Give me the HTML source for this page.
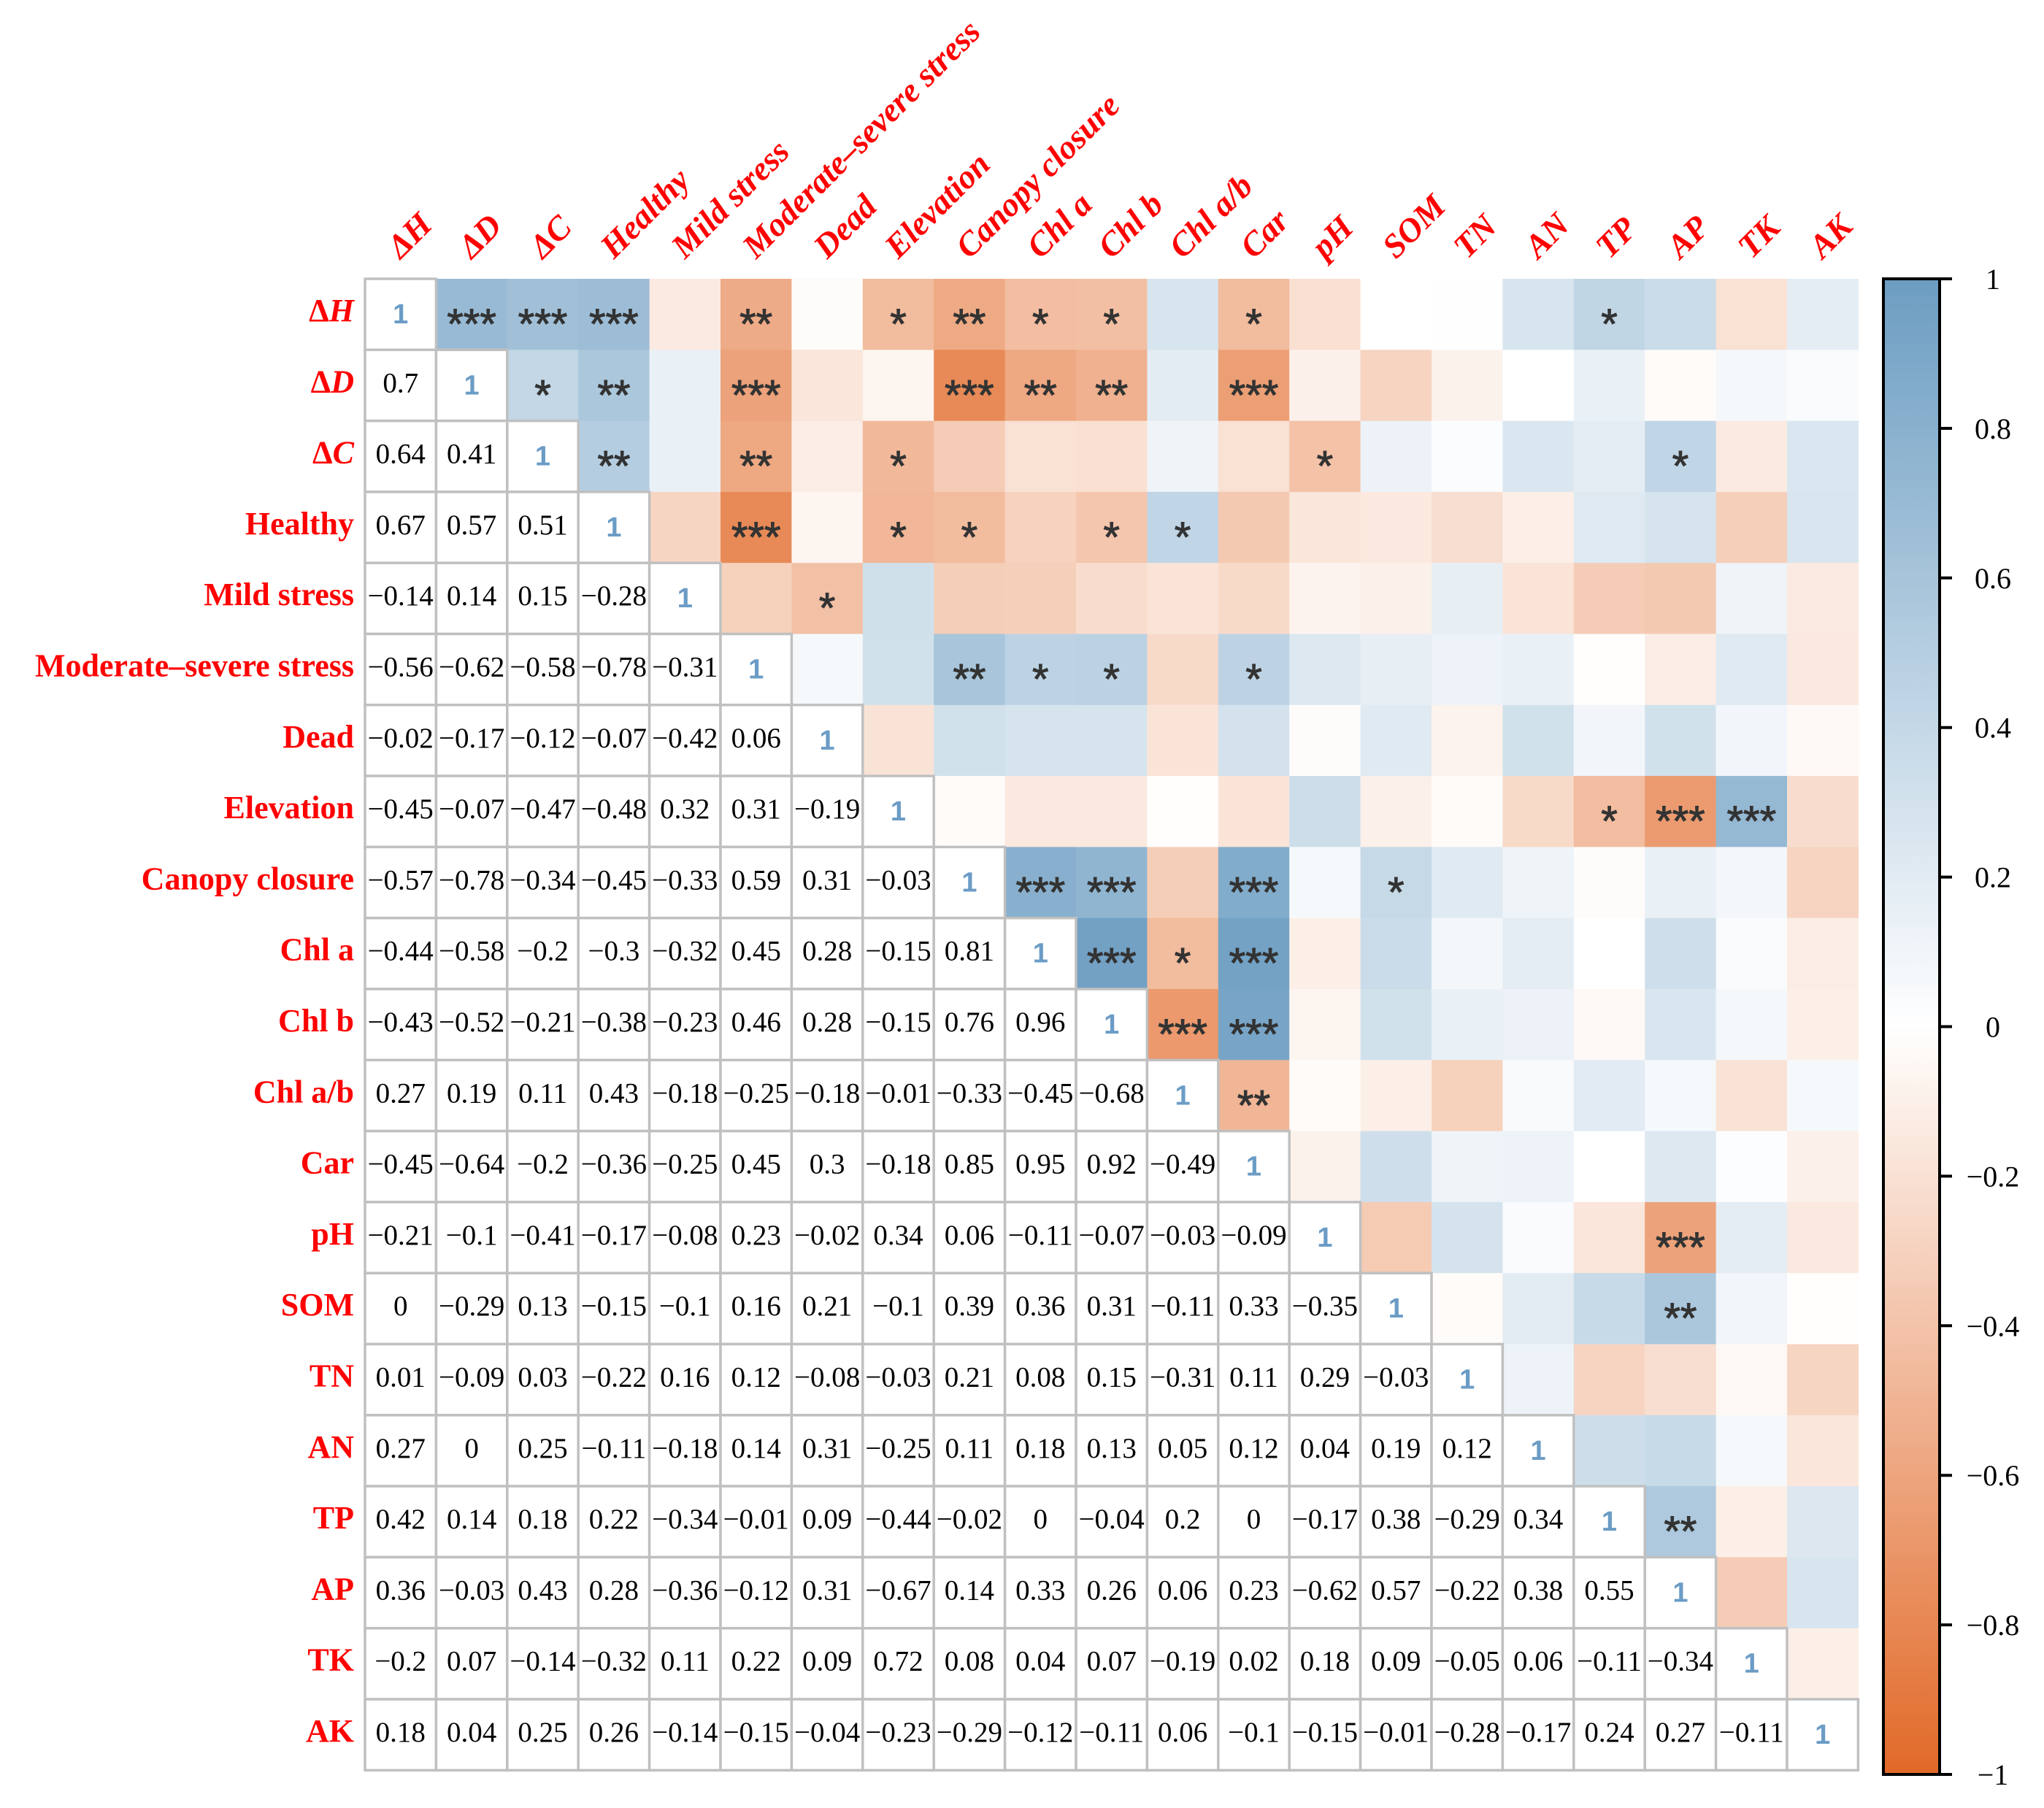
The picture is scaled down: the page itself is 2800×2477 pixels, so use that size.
<!DOCTYPE html>
<html><head><meta charset="utf-8"><style>
html,body{margin:0;padding:0;background:#fff;}
svg{display:block;}
</style></head><body>
<svg id="chart" width="2800" height="2477" viewBox="0 0 2800 2477" xmlns="http://www.w3.org/2000/svg"></svg>
<script>
const labels = ["ΔH","ΔD","ΔC","Healthy","Mild stress","Moderate–severe stress","Dead","Elevation","Canopy closure","Chl a","Chl b","Chl a/b","Car","pH","SOM","TN","AN","TP","AP","TK","AK"];
const lowerValues = [
 [],
 [0.7],
 [0.64,0.41],
 [0.67,0.57,0.51],
 [-0.14,0.14,0.15,-0.28],
 [-0.56,-0.62,-0.58,-0.78,-0.31],
 [-0.02,-0.17,-0.12,-0.07,-0.42,0.06],
 [-0.45,-0.07,-0.47,-0.48,0.32,0.31,-0.19],
 [-0.57,-0.78,-0.34,-0.45,-0.33,0.59,0.31,-0.03],
 [-0.44,-0.58,-0.2,-0.3,-0.32,0.45,0.28,-0.15,0.81],
 [-0.43,-0.52,-0.21,-0.38,-0.23,0.46,0.28,-0.15,0.76,0.96],
 [0.27,0.19,0.11,0.43,-0.18,-0.25,-0.18,-0.01,-0.33,-0.45,-0.68],
 [-0.45,-0.64,-0.2,-0.36,-0.25,0.45,0.3,-0.18,0.85,0.95,0.92,-0.49],
 [-0.21,-0.1,-0.41,-0.17,-0.08,0.23,-0.02,0.34,0.06,-0.11,-0.07,-0.03,-0.09],
 [0,-0.29,0.13,-0.15,-0.1,0.16,0.21,-0.1,0.39,0.36,0.31,-0.11,0.33,-0.35],
 [0.01,-0.09,0.03,-0.22,0.16,0.12,-0.08,-0.03,0.21,0.08,0.15,-0.31,0.11,0.29,-0.03],
 [0.27,0,0.25,-0.11,-0.18,0.14,0.31,-0.25,0.11,0.18,0.13,0.05,0.12,0.04,0.19,0.12],
 [0.42,0.14,0.18,0.22,-0.34,-0.01,0.09,-0.44,-0.02,0,-0.04,0.2,0,-0.17,0.38,-0.29,0.34],
 [0.36,-0.03,0.43,0.28,-0.36,-0.12,0.31,-0.67,0.14,0.33,0.26,0.06,0.23,-0.62,0.57,-0.22,0.38,0.55],
 [-0.2,0.07,-0.14,-0.32,0.11,0.22,0.09,0.72,0.08,0.04,0.07,-0.19,0.02,0.18,0.09,-0.05,0.06,-0.11,-0.34],
 [0.18,0.04,0.25,0.26,-0.14,-0.15,-0.04,-0.23,-0.29,-0.12,-0.11,0.06,-0.1,-0.15,-0.01,-0.28,-0.17,0.24,0.27,-0.11]
];
const starRows = [0,0,0,0,0,0,0,0,0,0, 1,1,1,1,1,1,1, 2,2,2,2,2, 3,3,3,3,3, 4, 5,5,5,5, 7,7,7, 8,8,8,8, 9,9,9, 10,10, 11, 13, 14, 17];
const starCols = [1,2,3,5,7,8,9,10,12,17, 2,3,5,8,9,10,12, 3,5,7,13,18, 5,7,8,10,11, 6, 8,9,10,12, 17,18,19, 9,10,12,14, 10,11,12, 11,12, 12, 18, 18, 18];
const starMarks = ["***","***","***","**","*","**","*","*","*","*", "*","**","***","***","**","**","***", "**","**","*","*","*", "***","*","*","*","*", "*", "**","*","*","*", "*","***","***", "***","***","***","*", "***","*","***", "***","***", "**", "***", "**", "**"];
const cbTicks = [1,0.8,0.6,0.4,0.2,0,-0.2,-0.4,-0.6,-0.8,-1];
const cbTickLabels = ["1","0.8","0.6","0.4","0.2","0","−0.2","−0.4","−0.6","−0.8","−1"];

const NS="http://www.w3.org/2000/svg";
const svg=document.getElementById('chart');
const X0=500, Y0=382, CW=97.4, CH=97.3, N=labels.length;
const xPos=j=>X0+j*CW, yPos=i=>Y0+i*CH;
const CB_X=2580, CB_W=77, CB_TOP=382, CB_BOT=2431;
const cbY=v=>CB_TOP+(1-v)/2*(CB_BOT-CB_TOP);
function color(v){
  const e=v>=0?[108,157,194]:[225,105,40];
  const t=Math.min(1,Math.abs(v));
  return `rgb(${Math.round(255+(e[0]-255)*t)},${Math.round(255+(e[1]-255)*t)},${Math.round(255+(e[2]-255)*t)})`;
}
function mk(tag,attrs,parent){const el=document.createElementNS(NS,tag);for(const k in attrs)el.setAttribute(k,attrs[k]);(parent||svg).appendChild(el);return el;}
function fmt(v){return v<0?"−"+String(Math.abs(v)):String(v);}
function corr(i,j){return i>j?lowerValues[i][j]:lowerValues[j][i];}

const gUp=mk('g',{});


for(let i=0;i<N;i++)for(let j=i+1;j<N;j++){
  const r=mk('rect',{x:xPos(j),y:yPos(i),width:CW+0.6,height:CH+0.6,fill:color(corr(i,j))},gUp);
  
  
}
const gLo=mk('g',{});


for(let i=0;i<N;i++)for(let j=0;j<=i;j++){
  const r=mk('rect',{x:xPos(j),y:yPos(i),width:CW,height:CH,fill:'#fff',stroke:'#c0c0c0','stroke-width':3.5},gLo);
  
  
  const t=mk('text',{x:xPos(j)+CW/2,y:yPos(i)+(i===j?61:58),'text-anchor':'middle'},gLo);
  if(i===j){t.setAttribute('font-family','Liberation Sans, sans-serif');t.setAttribute('font-size','38');t.setAttribute('font-weight','bold');t.setAttribute('fill','#6b9cc6');t.textContent='1';
    }
  else{t.setAttribute('font-family','Liberation Serif, serif');t.setAttribute('font-size','39');t.setAttribute('fill','#000');t.textContent=fmt(lowerValues[i][j]);
    }
  
}
for(let k=0;k<starRows.length;k++){
  const t=mk('text',{x:xPos(starCols[k])+CW/2,y:yPos(starRows[k])+82,'text-anchor':'middle','font-family':'Liberation Sans, sans-serif','font-size':'58',fill:'#333','stroke':'#333','stroke-width':1});
  t.textContent=starMarks[k];
  
  
}
function labelContent(t,s){
  if(s[0]==='Δ'){const a=mk('tspan',{},t);a.textContent='Δ';const b=mk('tspan',{'font-style':'italic'},t);b.textContent=s.slice(1);}
  else t.textContent=s;
}
for(let i=0;i<N;i++){
  const t=mk('text',{x:485,y:yPos(i)+58,'text-anchor':'end','font-family':'Liberation Serif, serif','font-size':'44','font-weight':'bold',fill:'#ff0000'});
  labelContent(t,labels[i]);
  
  
}
for(let j=0;j<N;j++){
  const cx=xPos(j)+CW/2, cy=356;
  const t=mk('text',{x:cx,y:cy,transform:`rotate(-45 ${cx} ${cy})`,'font-family':'Liberation Serif, serif','font-size':'46','font-weight':'bold','font-style':'italic',fill:'#ff0000'});
  labelContent(t,labels[j]);
  
  
}
const defs=mk('defs',{});
const lg=mk('linearGradient',{id:'cbg',x1:0,y1:0,x2:0,y2:1},defs);
for(let s=0;s<=20;s++){const v=1-s/10;mk('stop',{offset:(s/20),'stop-color':color(v)},lg);}
const cb=mk('rect',{x:CB_X,y:CB_TOP,width:CB_W,height:CB_BOT-CB_TOP,fill:'url(#cbg)',stroke:'#000','stroke-width':4});


for(let k=0;k<cbTicks.length;k++){
  const y=cbY(cbTicks[k]);
  const l=mk('line',{x1:CB_X+CB_W,x2:CB_X+CB_W+17,y1:y,y2:y,stroke:'#000','stroke-width':4});
  
  
  const t=mk('text',{x:2730,y:y+14,'text-anchor':'middle','font-family':'Liberation Serif, serif','font-size':'40',fill:'#000'});
  t.textContent=cbTickLabels[k];
  
  
}
</script>
</body></html>
